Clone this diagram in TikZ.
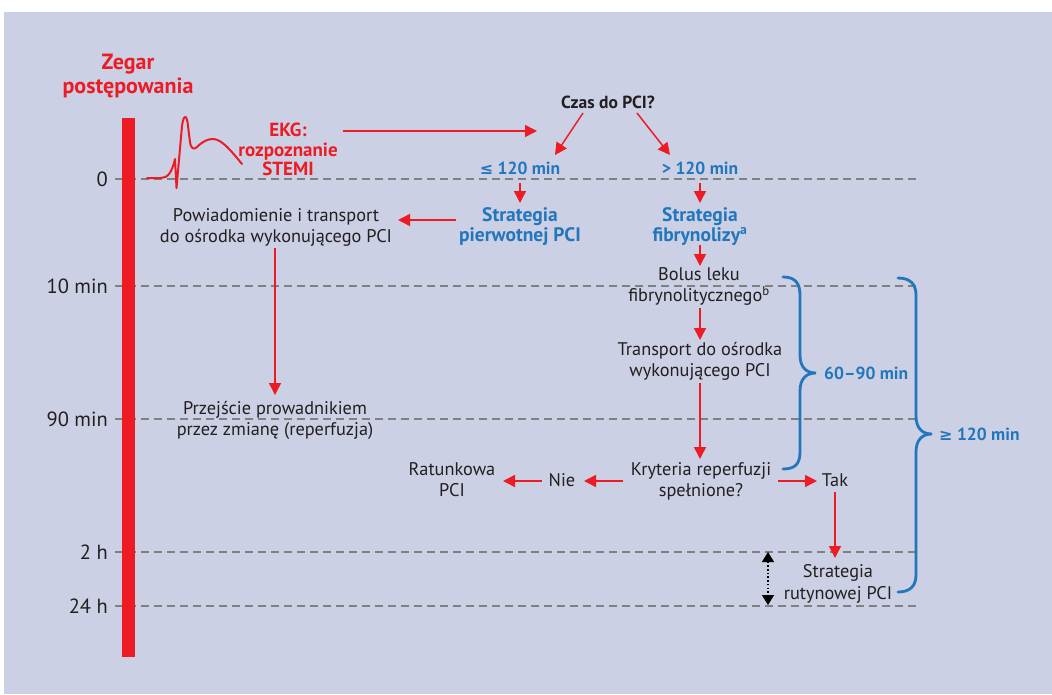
\documentclass[tikz,border=0pt]{standalone}
\usepackage{fontspec}
\setmainfont{PT Sans}
\newfontfamily\symf{DejaVu Sans}
\usetikzlibrary{arrows.meta,calc}
\definecolor{bg}{RGB}{203,208,228}
\definecolor{rd}{RGB}{237,28,36}
\definecolor{bl}{RGB}{35,118,188}
\definecolor{tx}{RGB}{35,31,32}
\definecolor{gridc}{RGB}{128,128,128}
\tikzset{
  txt/.style={inner sep=0pt, align=center, text=tx, font=\fontsize{18.3}{21.5}\selectfont},
  one/.style={text height=13pt, text depth=4pt},
  tlabel/.style={inner sep=0pt, text=tx, font=\fontsize{20.5}{24}\selectfont, text height=14pt, text depth=4pt, anchor=east},
  bbold/.style={txt, text=bl, font=\fontsize{17.5}{20}\selectfont\bfseries},
  bstrat/.style={txt, text=bl, font=\fontsize{19.5}{20.5}\selectfont\bfseries},
  arr/.style={draw=rd, line width=1.5pt, -{Triangle[width=12pt,length=12pt]}},
  gridline/.style={draw=gridc, line width=1.4pt, dash pattern=on 8pt off 5pt},
  brace/.style={draw=bl, line width=2.8pt, line cap=round},
  ekgline/.style={draw=rd, line width=2pt, line join=round, line cap=round},
}
\begin{document}
\begin{tikzpicture}[x=1pt,y=-1pt]
\useasboundingbox (0,0) rectangle (1052,694);
\fill[white] (0,0) rectangle (1052,694);
\fill[bg] (4,12) rectangle (1052,694);

% time grid
\foreach \yy in {179,286,419,552,606}{
  \draw[gridline] (115,\yy) -- (917,\yy);
}

% clock bar
\fill[rd] (122,118) rectangle (135,657);

% time labels
\node[tlabel] (l0) at (108,181) {0};
\node[tlabel] (l10) at (108,288) {10 min};
\node[tlabel] (l90) at (108,421) {90 min};
\node[tlabel] (l2h) at (108,554) {2 h};
\node[tlabel] (l24h) at (108,608) {24 h};

% title
\node[txt, text=rd, font=\fontsize{22}{24}\selectfont\bfseries] (title) at (128,76) {Zegar\\postępowania};

% ECG trace
\draw[ekgline] (147,178) -- (161,178) .. controls (168,178) and (172,172) .. (175,159)
  -- (176.5,188) -- (182,126) .. controls (183.5,114) and (187,114) .. (188,126)
  -- (190,142) .. controls (191,149) and (194,150) .. (197,147)
  .. controls (203,141) and (208,139) .. (213,139)
  .. controls (222,139) and (232,152) .. (242,164);

% nodes
\node[txt, text=rd, font=\fontsize{19}{19.5}\selectfont\bfseries] (ekg) at (288,149.5) {EKG:\\rozpoznanie\\STEMI};
\node[txt,one,font=\fontsize{17.5}{21}\selectfont\bfseries] (czas) at (608,103.5) {Czas do PCI?};
\node[bbold,one] (le120) at (520,169.5) {{\symf\fontsize{16}{20}\selectfont ≤} 120 min};
\node[bbold,one] (gt120) at (700,169.5) {> 120 min};
\node[bstrat] (sp) at (520,226.5) {Strategia\\pierwotnej PCI};
\node[bstrat] (sf) at (700,226.5) {Strategia\\fibrynolizy\textsuperscript{a}};
\node[txt] (pow) at (276,227.5) {Powiadomienie i transport\\do ośrodka wykonującego PCI};
\node[txt] (prz) at (275,420.5) {Przejście prowadnikiem\\przez zmianę (reperfuzja)};
\node[txt] (bolus) at (699,286.5) {Bolus leku\\fibrynolitycznego\textsuperscript{b}};
\node[txt] (trans) at (700,361.5) {Transport do ośrodka\\wykonującego PCI};
\node[txt] (kry) at (701,481.5) {Kryteria reperfuzji\\spełnione?};
\node[txt,one] (nie) at (562,482) {Nie};
\node[txt] (rat) at (452,479.5) {Ratunkowa\\PCI};
\node[txt,one] (tak) at (835,482) {Tak};
\node[txt] (sr) at (838,584) {Strategia\\rutynowej PCI};
\node[bbold,one,anchor=west] (t6090) at (824,374.5) {60–90 min};
\node[bbold,one,anchor=west] (t120) at (939,435.5) {{\symf\fontsize{16}{20}\selectfont ≥} 120 min};

% arrows
\draw[arr] ($(ekg)+(55,-18.5)$) -- ($(czas)+(-71,27.5)$);
\draw[arr] ($(czas)+(-25,9.5)$) -- ($(le120)+(35,-14.5)$);
\draw[arr] ($(czas)+(29,9.5)$) -- ($(gt120)+(-30,-14.5)$);
\draw[arr] ($(le120)+(0,13.5)$) -- ($(sp)+(0,-23.5)$);
\draw[arr] ($(gt120)+(0,13.5)$) -- ($(sf)+(0,-23.5)$);
\draw[arr] ($(sp)+(-64,-6.5)$) -- ($(pow)+(122,-7.5)$);
\draw[arr] ($(sf)+(0,18.5)$) -- ($(bolus)+(1,-20.5)$);
\draw[arr] ($(bolus)+(1,21.5)$) -- ($(trans)+(0,-21.5)$);
\draw[arr] ($(trans)+(0,21.5)$) -- ($(kry)+(-1,-22.5)$);
\draw[arr] ($(kry)+(-78,-0.5)$) -- ($(nie)+(22,-1)$);
\draw[arr] ($(nie)+(-20,-1)$) -- ($(rat)+(51,1.5)$);
\draw[arr] ($(kry)+(77,-0.5)$) -- ($(tak)+(-18,-1)$);
\draw[arr] ($(tak)+(0,10)$) -- ($(sr)+(-3,-26)$);
\draw[arr] ($(pow)+(-1,20.5)$) -- ($(prz)+(0,-25.5)$);

% dotted double arrow
\coordinate (d2h) at (768,552);
\coordinate (d24h) at (768,605);
\draw[black, line width=1.3pt, dash pattern=on 1.5pt off 2.2pt,
  {Triangle[width=12pt,length=10pt]}-{Triangle[width=12pt,length=10pt]}] (d2h) -- (d24h);

% braces
\draw[brace] (783,277) .. controls (795,277) and (800,283) .. (800,295) -- (800,355)
  .. controls (800,367) and (806,373) .. (816,373)
  .. controls (806,373) and (800,379) .. (800,391) -- (800,452)
  .. controls (800,464) and (795,469) .. (783,469);
\draw[brace] (898,278) .. controls (910,278) and (916,284) .. (916,295) -- (916,416)
  .. controls (916,428) and (922,434) .. (932,434)
  .. controls (922,434) and (916,440) .. (916,452) -- (916,575)
  .. controls (916,586) and (910,592) .. (898,592);
\end{tikzpicture}
\end{document}
